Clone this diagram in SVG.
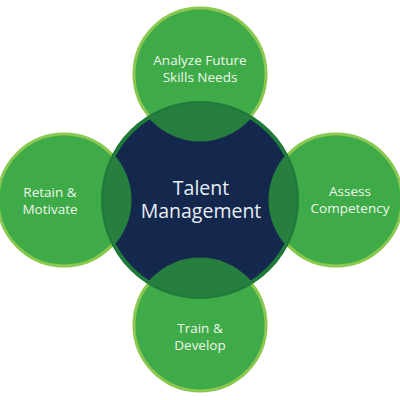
<svg xmlns="http://www.w3.org/2000/svg" width="400" height="400" viewBox="0 0 400 400">
<defs>
<style>
.outer{fill:#3eaa48;stroke:#8cc850;stroke-width:3}
.lens{fill:#267f3e}
.lbl{font-family:"Open Sans","Liberation Sans",sans-serif;font-size:13.5px;fill:#eef7ea;text-anchor:middle}
.ctr{font-family:"Open Sans","Liberation Sans",sans-serif;font-size:19.5px;fill:#e8eef5;text-anchor:middle}
</style>
<clipPath id="cc"><circle cx="200" cy="200" r="97"/></clipPath>
</defs>
<rect width="400" height="400" fill="#ffffff"/>
<g id="connectors"/>
<g id="n-top"><circle class="outer" cx="200" cy="74" r="66"/></g>
<g id="n-left"><circle class="outer" cx="64" cy="200" r="66"/></g>
<g id="n-right"><circle class="outer" cx="336" cy="200" r="66"/></g>
<g id="n-bottom"><circle class="outer" cx="200" cy="325" r="66"/></g>
<g id="n-center">
<circle cx="200" cy="200" r="97" fill="#13284c" stroke="#1f7a3a" stroke-width="4"/>
<g clip-path="url(#cc)">
<circle class="lens" cx="200" cy="74" r="67.5"/>
<circle class="lens" cx="64" cy="200" r="67.5"/>
<circle class="lens" cx="336" cy="200" r="67.5"/>
<circle class="lens" cx="200" cy="325" r="67.5"/>
</g>
<text class="ctr" x="201" y="195">Talent</text>
<text class="ctr" x="201" y="218">Management</text>
</g>
<g id="t-top"><text class="lbl" x="200" y="65">Analyze Future</text><text class="lbl" x="200" y="82">Skills Needs</text></g>
<g id="t-left"><text class="lbl" x="50" y="197">Retain &amp;</text><text class="lbl" x="50" y="214">Motivate</text></g>
<g id="t-right"><text class="lbl" x="350" y="196">Assess</text><text class="lbl" x="350" y="213">Competency</text></g>
<g id="t-bottom"><text class="lbl" x="200" y="333">Train &amp;</text><text class="lbl" x="200" y="350">Develop</text></g>
</svg>
